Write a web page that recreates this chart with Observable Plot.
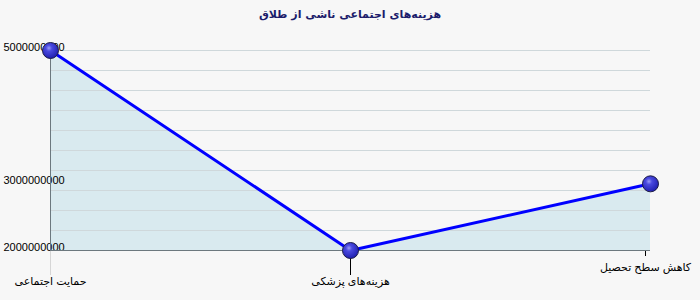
<!DOCTYPE html>
<html>
<head>
<meta charset="utf-8">
<script src="https://cdn.jsdelivr.net/npm/d3@7"></script>
<script src="https://cdn.jsdelivr.net/npm/@observablehq/plot@0.6"></script>
<style>
  html, body { margin: 0; padding: 0; background: #f7f7f7; }
  #title { height: 30px; line-height: 30px; text-align: center; font-family: "DejaVu Sans", sans-serif; font-weight: bold; font-size: 11px; color: #1c1c6b; direction: rtl; }
  #chart svg { display: block; }
</style>
</head>
<body>
<div id="title">هزینه‌های اجتماعی ناشی از طلاق</div>
<div id="chart"></div>
<script>
const categories = ["حمایت اجتماعی", "هزینه‌های پزشکی", "کاهش سطح تحصیل"];
const values = [5000000000, 2000000000, 3000000000];
const yTicks = [2000000000, 3000000000, 5000000000];
const yDomain = [2000000000, 5000000000];
const gridCount = 10;

const data = categories.map((c, i) => ({category: c, value: values[i]}));
const gridValues = d3.range(1, gridCount + 1).map(i => yDomain[0] + (yDomain[1] - yDomain[0]) * i / gridCount);

const font = "'Liberation Sans', 'DejaVu Sans', sans-serif";

const chart = Plot.plot({
  width: 700,
  height: 270,
  marginTop: 20,
  marginBottom: 50,
  marginLeft: 50,
  marginRight: 50,
  style: {background: "transparent", fontFamily: font, fontSize: "11px", color: "#000"},
  x: {type: "point", domain: categories, padding: 0},
  y: {domain: yDomain},
  marks: [
    Plot.ruleY(gridValues, {stroke: "#d9d9d9", strokeWidth: 1}),
    Plot.areaY(data, {x: "category", y1: yDomain[0], y2: "value", fill: "#d9eaef", curve: "linear"}),
    Plot.gridY(gridValues, {stroke: "#cfd8db", strokeOpacity: 1}),
    Plot.axisX([categories[0]], {tickSize: 25, tickPadding: 2, stroke: "#d6d6d6", fill: "#000", label: null}),
    Plot.axisX([categories[1]], {tickSize: 25, tickPadding: 2, stroke: "#000", label: null}),
    Plot.axisX([categories[2]], {tickSize: 6, tickPadding: 7, stroke: "#000", textAnchor: "middle", dx: -5, label: null}),
    Plot.axisY(yTicks, {tickSize: 0, tickPadding: 0, textAnchor: "start", dx: -47, dy: -3, tickFormat: d => String(d), label: null, fill: "#000"}),
    Plot.ruleX([categories[0]], {y1: yDomain[0], y2: yDomain[1], stroke: "#6c787e", strokeWidth: 1}),
    Plot.ruleY([yDomain[0]], {stroke: "#6c787e", strokeWidth: 1}),
    Plot.line(data, {x: "category", y: "value", stroke: "#0000ff", strokeWidth: 3}),
    Plot.dot(data, {x: "category", y: "value", r: 8, fill: "url(#ballGrad)", stroke: "#1d1d45", strokeWidth: 1})
  ]
});

// sphere gradient for markers
const svg = d3.select(chart);
const defs = svg.insert("defs", ":first-child");
const g = defs.append("radialGradient").attr("id", "ballGrad")
  .attr("cx", "0.4").attr("cy", "0.35").attr("r", "0.65");
g.append("stop").attr("offset", "0%").attr("stop-color", "#9a9af5");
g.append("stop").attr("offset", "30%").attr("stop-color", "#4a4ae0");
g.append("stop").attr("offset", "100%").attr("stop-color", "#2020b0");

document.getElementById("chart").appendChild(chart);
</script>
</body>
</html>
